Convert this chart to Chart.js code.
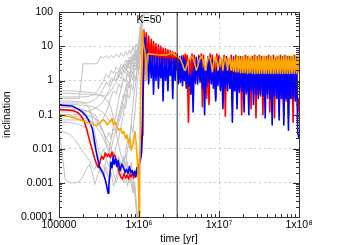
<!DOCTYPE html>
<html>
<head>
<meta charset="utf-8">
<script src="https://cdn.jsdelivr.net/npm/chart.js@4.4.1/dist/chart.umd.min.js"></script>
<style>
  html, body { margin: 0; padding: 0; background: #fff; }
</style>
</head>
<body>
<canvas id="incChart" width="350" height="245"></canvas>
<script>
// axis ticks
var xTickValues = [1e5, 1e6, 1e7, 1e8];
var xTickLabels = ['100000', '1x10\u2076', '1x10\u2077', '1x10\u2078'];
var yTickValues = [1e-4, 1e-3, 1e-2, 1e-1, 1, 10, 100];
var yTickLabels = ['0.0001', '0.001', '0.01', '0.1', '1', '10', '100'];

var markerTime = 3e6;      // black vertical line
var kLabel = 'K=50';
var kLabelTime = 1.33e6;

// grey runs, shared time grid (yr)
var greyTime = [1e5, 1.2e5, 1.4e5, 1.6e5, 1.8e5, 2e5, 2.2e5, 2.4e5, 2.6e5, 2.8e5,
  3e5, 3.3e5, 3.6e5, 3.9e5, 4.2e5, 4.5e5, 4.8e5, 5.2e5, 5.6e5, 6e5,
  6.4e5, 6.8e5, 7.2e5, 7.6e5, 8e5, 8.4e5, 8.8e5, 9.2e5, 9.6e5, 1e6,
  1.04e6, 1.08e6, 1.12e6, 1.16e6, 1.2e6, 1.35e6, 1.5e6, 1.7e6];

var greyRuns = [
  [0.5,0.5,0.5,0.49,0.48,0.47,0.46,0.45,0.44,0.42, 0.4,0.37,0.33,0.28,0.22,0.15,0.08,0.03,0.012,0.006, 0.004,0.007,0.003,0.002,0.004,0.0015,0.0006,0.0002],
  [0.42,0.42,0.42,0.41,0.41,0.4,0.4,0.4,0.39,0.38, 0.38,0.37,0.36,0.35,0.4,0.5,0.7,0.9,1.4,1.1, 2,1.6,3,2.2,4,3,6,4,9,6, 15,40,25],
  [0.3,0.3,0.3,0.3,0.3,3.1,3.1,3.1,3.1,3.1, 3.1,5,4.7,5.3,4.5,5.5,4.6,6,4.8,6.5, 5,7,5.5,8,6,10,7,12,9,18, 30,60],
  [0.04,0.0012,0.001,0.001,0.0011,0.0016,0.0025,0.0035,0.002,0.0009, 0.0015,0.003,0.002,0.005,0.003,0.008,0.005,0.012,0.02,0.05, 0.1,0.3,0.5,1,2,1.5,3,5,3,8, 20],
  [0.035,0.03,0.025,0.018,0.012,0.008,0.006,0.0045,0.003,0.0025, 0.004,0.002,0.0015,0.003,0.0012,0.002,0.0008,0.0015,0.003,0.002, 0.006,0.003,0.01,0.02,0.05,0.2,0.5,1,3,2, 6,15],
  [0.25,0.25,0.25,0.24,0.24,0.23,0.2,0.15,0.08,0.03, 0.012,0.006,0.01,0.005,0.008,0.02,0.05,0.1,0.3,0.6, 1.2,0.9,2,1.5,3,2.5,5,4,8,6, 20,50,90,70,100,80,60,90],
  [0.2,0.2,0.2,0.2,0.19,0.19,0.18,0.18,0.17,0.16, 0.15,0.13,0.11,0.09,0.07,0.06,0.08,0.05,0.1,0.2, 0.4,0.3,0.8,0.6,1.5,1,2.5,2,4,3, 8,20],
  [0.16,0.16,0.16,0.15,0.15,0.14,0.13,0.12,0.1,0.08, 0.06,0.04,0.03,0.02,0.015,0.01,0.006,0.003,0.005,0.002, 0.001,0.0015,0.0008,0.002,0.001,0.0005,0.001,0.0002,0.00005],
  [0.12,0.12,0.12,0.12,0.12,0.12,0.12,0.13,0.14,0.15, 0.17,0.2,0.25,0.35,0.5,0.8,1.2,1,2,1.5, 3,2,4,3,5,4,7,5,10,8, 30,15],
  [0.09,0.09,0.09,0.088,0.085,0.08,0.075,0.07,0.06,0.05, 0.04,0.03,0.02,0.012,0.008,0.01,0.02,0.04,0.08,0.15, 0.3,0.6,1,0.8,2,1.5,3,2.5,5,10, 25,70,40],
  [0.33,0.33,0.33,0.33,0.33,0.33,0.34,0.35,0.37,0.4, 0.5,0.7,1,1.5,1.2,2,1.6,2.5,2,3, 2.4,4,3,5,3.5,6,5,8,6,12, 25],
  [0.06,0.06,0.058,0.055,0.05,0.045,0.04,0.03,0.02,0.012, 0.007,0.004,0.003,0.002,0.0015,0.003,0.002,0.001,0.002,0.004, 0.003,0.008,0.02,0.01,0.05,0.03,0.1,0.3,1,3, 10],
  [0.22,0.22,0.22,0.22,0.22,0.22,0.22,0.23,0.25,0.28, 0.32,0.4,0.6,0.9,0.7,1.2,1,1.8,1.3,2.5, 1.8,3,2.2,4,3,5,4,6,5,9, 15,35,60,50],
  [0.14,0.14,0.14,0.14,0.14,0.13,0.13,0.12,0.11,0.1, 0.08,0.05,0.03,0.015,0.01,0.006,0.008,0.004,0.006,0.003, 0.005,0.002,0.004,0.001,0.002,0.0006,0.001,0.0003,0.0001],
  [0.07,0.07,0.07,0.07,0.07,0.068,0.066,0.064,0.06,0.058, 0.055,0.06,0.08,0.12,0.2,0.35,0.5,0.4,0.8,0.6, 1.2,0.9,1.6,1.2,2.5,2,3.5,3,6,15, 40],
  [0.1,0.1,0.1,0.1,0.1,0.1,0.095,0.09,0.085,0.08, 0.07,0.05,0.03,0.02,0.03,0.02,0.04,0.03,0.06,0.1, 0.2,0.15,0.4,0.3,0.8,0.5,1.5,1,3,5, 12,30]
];

// coloured runs before the instability (yr)
var redEarlyTime = [1e5,1.4e5,1.6e5,1.75e5,1.9e5,2.05e5,2.2e5,2.35e5,2.5e5,2.65e5,
  2.8e5,2.95e5,3.1e5,3.25e5,3.4e5,3.6e5,3.8e5,4.0e5,4.2e5,4.4e5,
  4.6e5,4.8e5,5.0e5,5.3e5,5.6e5,5.9e5,6.2e5,6.5e5,6.8e5,7.1e5,
  7.4e5,7.7e5,8.0e5,8.3e5,8.6e5,8.9e5,9.2e5,9.5e5,9.8e5,1.01e6,
  1.04e6,1.07e6,1.1e6,1.12e6];
var redEarly = [0.14,0.135,0.125,0.11,0.09,0.065,0.04,0.022,0.013,0.008,
  0.005,0.0035,0.0028,0.004,0.006,0.005,0.0075,0.006,0.007,0.0055,
  0.008,0.006,0.0065,0.004,0.0022,0.0015,0.0013,0.0019,0.0014,0.0017,
  0.0013,0.0018,0.0015,0.002,0.0014,0.0018,0.0016,0.0022,0.0018,0.003,
  0.006,0.012,0.025,0.5];

var blueEarlyTime = [1e5,1.45e5,1.7e5,1.95e5,2.15e5,2.3e5,2.45e5,2.6e5,2.7e5,2.8e5,
  2.9e5,3.05e5,3.2e5,3.4e5,3.6e5,3.8e5,3.95e5,4.1e5,4.2e5,4.3e5,
  4.45e5,4.6e5,4.75e5,4.9e5,5.1e5,5.3e5,5.5e5,5.8e5,6.1e5,6.4e5,
  6.7e5,7.0e5,7.3e5,7.6e5,7.9e5,8.2e5,8.5e5,8.8e5,9.1e5,9.4e5,
  9.7e5,1.0e6,1.04e6,1.08e6,1.12e6];
var blueEarly = [0.19,0.18,0.15,0.12,0.095,0.075,0.055,0.04,0.025,0.015,
  0.009,0.005,0.003,0.0023,0.0018,0.0012,0.0008,0.0005,0.0009,0.0015,
  0.004,0.0028,0.006,0.0035,0.005,0.003,0.0045,0.0023,0.0035,0.0028,
  0.002,0.0025,0.0019,0.003,0.002,0.0023,0.0017,0.0022,0.0015,0.0028,
  0.0021,0.0035,0.0045,0.008,0.3];

var orangeEarlyTime = [1e5,1.3e5,1.6e5,1.9e5,2.2e5,2.5e5,2.8e5,3.0e5,3.2e5,3.4e5,
  3.6e5,3.8e5,4.0e5,4.2e5,4.4e5,4.6e5,4.8e5,5.0e5,5.3e5,5.6e5,
  5.9e5,6.2e5,6.5e5,6.8e5,7.1e5,7.4e5,7.7e5,8.0e5,8.3e5,8.6e5,
  8.9e5,9.2e5,9.5e5,9.7e5,9.9e5,1.0e6,1.02e6,1.05e6,1.08e6,1.1e6,
  1.12e6];
var orangeEarly = [0.1,0.09,0.078,0.068,0.06,0.054,0.05,0.048,0.055,0.065,
  0.07,0.062,0.05,0.058,0.065,0.078,0.05,0.06,0.045,0.035,
  0.04,0.028,0.032,0.02,0.025,0.015,0.02,0.009,0.012,0.02,
  0.032,0.015,0.005,0.002,0.0005,0.00008,0.002,0.3,8,28,
  15];

// coloured runs after the instability, shared time grid (Myr)
var bandTimeMyr = [1.15,1.19,1.23,1.27,1.32,1.37,1.42,1.47,1.52,1.57,
  1.63,1.69,1.75,1.81,1.87,1.94,2.0,2.07,2.15,2.22,
  2.3,2.38,2.46,2.55,2.64,2.73,2.83,2.92,
  3.0,3.1,3.2,3.3,3.4,3.5,3.6,3.7,3.8,3.9,
  4.0,4.15,4.3,4.45,4.6,4.75,4.9,5.05,5.2,5.4,
  5.6,5.8,6.0,6.2,6.4,6.6,6.8,7.0,7.25,7.5,
  7.75,8.0,8.25,8.5,8.8,9.1,9.4,9.7,10,10.4,
  10.8,11.2,11.6,12,12.4,12.8,13.2,13.7,14.2,14.7,
  15.2,15.7,16.2,16.8,17.4,18,18.6,19.2,19.9,20.6,
  21.3,22,22.8,23.6,24.4,25.2,26.1,27,28,29,
  30,31,32,33,34.2,35.4,36.6,37.8,39,40.4,
  41.8,43.2,44.6,46.2,47.8,49.4,51,52.8,54.6,56.4,
  58.4,60.4,62.4,64.6,66.8,69,71.4,73.8,76.4,79,
  81.6,84.4,87.2,90.2,93.2,96.4,100];

var redBand = [30,5,25,4,20,3.5,16,3,14,3.5,
  12,3,11,2.8,10,3,9,2.5,8.5,2.8,
  8,2.5,7.5,2.5,7,2.2,6.5,2.0,
  6,1.2,5,0.9,2.5,1.5,5.5,1.0,6,0.8,
  5.5,0.06,4,1.0,6,1.2,5.5,0.8,3,1.0,
  5.5,1.1,6,0.17,5.5,0.9,2.5,0.3,5,0.2,
  6,1.0,5.5,0.8,4,0.3,6,0.9,5.5,0.6,
  4,0.7,5.5,0.09,5,0.8,3.5,0.6,5.5,0.5,
  5,0.5,5.5,0.4,5,0.6,4.5,0.1,5,0.5,
  5.5,0.4,5,0.45,4,0.15,5,0.4,5.5,0.08,
  5,0.4,5.5,0.35,4.5,0.1,5,0.35,5,0.3,
  5.5,0.12,5,0.3,5.5,0.08,4.5,0.3,5,0.1,
  5.5,0.3,5,0.1,5.5,0.25,5,0.08,5,0.3,
  5,0.06,5.5,0.3,5,0.1,0.3];

var blueBand = [2,18,1.5,8,0.8,6,1.2,5.5,0.4,5,
  1.0,5,0.6,4.5,1.2,5,0.25,4.5,1.0,4.5,
  0.5,4.5,1.4,4.5,0.3,4.5,1.0,4.5,
  3.5,0.8,4.8,0.9,5.2,0.7,4.8,1.0,4.0,0.6,
  2.5,0.7,1.5,0.4,2.0,0.12,3.5,0.9,4.8,0.8,
  5.0,0.9,4.0,0.6,2.5,0.1,2.0,0.7,4.5,0.9,
  5.0,0.8,4.0,0.6,2.0,0.25,3.5,0.7,4.8,0.5,
  2.5,0.15,4.0,0.6,5.0,0.5,3.0,0.6,2.0,0.06,
  4.5,0.5,4.8,0.15,3.5,0.45,5.0,0.5,3.0,0.12,
  4.8,0.45,2.5,0.1,4.5,0.5,5.0,0.2,4.0,0.4,
  5.0,0.3,4.5,0.4,5.0,0.35,3.0,0.08,4.8,0.4,
  5.0,0.3,4.0,0.05,5.0,0.35,4.5,0.3,4.8,0.07,
  5.0,0.3,4.5,0.05,5.0,0.3,4.8,0.035,5.0,0.3,
  4.5,0.3,5.0,0.25,4.8,0.03,0.02];

var orangeBand = [10,7,1.0,6,6.2,5.9,6.0,5.9,5.8,5.8,
  5.8,5.7,5.7,5.7,5.6,5.6,5.6,5.6,5.6,5.7,
  5.8,6.0,6.3,6.5,6.4,6.0,5.6,5.2,
  5.0,4.9,4.6,4.2,3.6,3.0,2.4,2.0,2.0,2.5,
  3.0,4.0,4.6,5.0,4.9,4.4,3.6,2.7,2.0,2.5,
  3.7,4.6,5.0,4.6,3.6,2.4,2.0,3.0,4.4,5.0,
  4.4,3.0,1.8,3.0,4.6,4.9,3.6,2.0,3.0,4.9,
  4.2,2.0,3.7,5.0,3.6,2.0,4.2,4.6,2.0,4.2,
  1.9,4.8,1.8,5.0,1.8,5.1,1.7,5.0,1.7,5.1,
  1.7,5.1,1.6,5.2,1.7,5.1,1.6,5.2,1.6,5.1,
  1.6,5.2,1.6,5.1,1.6,5.2,1.6,5.2,1.6,5.1,
  1.6,5.2,1.6,5.2,1.6,5.1,1.6,5.2,1.6,5.2,
  1.6,5.2,1.6,5.2,1.6,5.2,1.6,5.2,1.6,5.2,
  1.6,5.2,1.6,5.2,1.6,5.2,1.6];

var colors = {
  grey: 'rgb(192,192,192)',
  red: 'rgb(255,0,0)',
  blue: 'rgb(0,0,255)',
  orange: 'rgb(255,165,0)',
  frame: '#333',
  grid: 'rgba(0,0,0,0.2)',
  text: '#000'
};
var fontFamily = "'Liberation Sans', Arial, sans-serif";

function toPoints(times, vals, unit) {
  var pts = [];
  for (var i = 0; i < vals.length && i < times.length; i++) {
    if (vals[i] === null) break;
    pts.push({ x: times[i] * (unit || 1), y: vals[i] });
  }
  return pts;
}

function lineSet(label, pts, color, width, order) {
  return {
    label: label,
    data: pts,
    borderColor: color,
    backgroundColor: color,
    borderWidth: width,
    borderJoinStyle: 'round',
    pointRadius: 0,
    tension: 0,
    fill: false,
    order: order
  };
}

var datasets = [];
datasets.push(lineSet('marker', [{ x: markerTime, y: yTickValues[0] }, { x: markerTime, y: yTickValues[yTickValues.length - 1] }], colors.frame, 1, 0));
datasets.push(lineSet('orange', toPoints(orangeEarlyTime, orangeEarly).concat(toPoints(bandTimeMyr, orangeBand, 1e6)), colors.orange, 1.6, 1));
datasets.push(lineSet('blue', toPoints(blueEarlyTime, blueEarly).concat(toPoints(bandTimeMyr, blueBand, 1e6)), colors.blue, 1.6, 2));
datasets.push(lineSet('red', toPoints(redEarlyTime, redEarly).concat(toPoints(bandTimeMyr, redBand, 1e6)), colors.red, 1.6, 3));
greyRuns.forEach(function(run, i) {
  datasets.push(lineSet('grey' + i, toPoints(greyTime, run), colors.grey, 1, 4));
});

function labelFor(values, labels, v) {
  for (var i = 0; i < values.length; i++) {
    if (Math.abs(Math.log10(values[i]) - Math.log10(v)) < 1e-6) return labels[i];
  }
  return '';
}

// frame, inward ticks and the K label
var framePlugin = {
  id: 'frame',
  afterDatasetsDraw: function(chart) {
    var ctx = chart.ctx, a = chart.chartArea;
    var xs = chart.scales.x, ys = chart.scales.y;
    ctx.save();
    ctx.strokeStyle = colors.frame;
    ctx.lineWidth = 1;
    ctx.strokeRect(Math.round(a.left) + 0.5, Math.round(a.top) + 0.5,
      Math.round(a.right - a.left), Math.round(a.bottom - a.top));
    ctx.beginPath();
    var d, k, p, len;
    for (d = 5; d < 8; d++) {
      for (k = 1; k < 10; k++) {
        p = Math.round(xs.getPixelForValue(k * Math.pow(10, d))) + 0.5;
        len = k === 1 ? 6 : 3;
        ctx.moveTo(p, a.bottom); ctx.lineTo(p, a.bottom - len);
        ctx.moveTo(p, a.top); ctx.lineTo(p, a.top + len);
      }
    }
    for (d = -4; d < 2; d++) {
      for (k = 1; k < 10; k++) {
        p = Math.round(ys.getPixelForValue(k * Math.pow(10, d))) + 0.5;
        len = k === 1 ? 6 : 3;
        ctx.moveTo(a.left, p); ctx.lineTo(a.left + len, p);
        ctx.moveTo(a.right, p); ctx.lineTo(a.right - len, p);
      }
    }
    ctx.stroke();
    ctx.fillStyle = colors.text;
    ctx.font = '10.5px ' + fontFamily;
    ctx.textAlign = 'center';
    ctx.textBaseline = 'middle';
    ctx.fillText(kLabel, xs.getPixelForValue(kLabelTime), a.top + 8);
    ctx.restore();
  }
};

new Chart(document.getElementById('incChart').getContext('2d'), {
  type: 'line',
  data: { datasets: datasets },
  options: {
    responsive: false,
    maintainAspectRatio: false,
    devicePixelRatio: 1,
    animation: false,
    events: [],
    layout: { padding: { top: 9, right: 51, bottom: 0, left: 0 } },
    plugins: {
      legend: { display: false },
      tooltip: { enabled: false }
    },
    scales: {
      x: {
        type: 'logarithmic',
        min: xTickValues[0],
        max: xTickValues[xTickValues.length - 1],
        afterBuildTicks: function(scale) {
          scale.ticks = xTickValues.map(function(v) { return { value: v }; });
        },
        afterFit: function(scale) { scale.height = 28; },
        grid: { color: colors.grid, drawTicks: false },
        border: { display: false, dash: [2, 3] },
        ticks: {
          autoSkip: false,
          maxRotation: 0,
          padding: 2,
          color: colors.text,
          font: { family: fontFamily, size: 10.5 },
          callback: function(v) { return labelFor(xTickValues, xTickLabels, v); }
        },
        title: {
          display: true,
          text: 'time [yr]',
          color: colors.text,
          font: { family: fontFamily, size: 10.5, lineHeight: 1 },
          padding: { top: 0, bottom: 1 }
        }
      },
      y: {
        type: 'logarithmic',
        min: yTickValues[0],
        max: yTickValues[yTickValues.length - 1],
        afterBuildTicks: function(scale) {
          scale.ticks = yTickValues.map(function(v) { return { value: v }; });
        },
        afterFit: function(scale) { scale.width = 59; },
        grid: { color: colors.grid, drawTicks: false },
        border: { display: false, dash: [2, 3] },
        ticks: {
          autoSkip: false,
          padding: 6,
          color: colors.text,
          font: { family: fontFamily, size: 10.5 },
          callback: function(v) { return labelFor(yTickValues, yTickLabels, v); }
        },
        title: {
          display: true,
          text: 'inclination',
          color: colors.text,
          font: { family: fontFamily, size: 10.5, lineHeight: 1 },
          padding: { top: 2, bottom: 0 }
        }
      }
    }
  },
  plugins: [framePlugin]
});
</script>
</body>
</html>
